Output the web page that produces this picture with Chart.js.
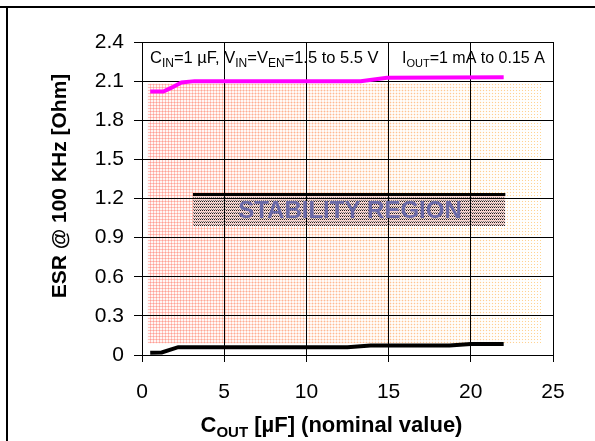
<!DOCTYPE html>
<html>
<head>
<meta charset="utf-8">
<script src="https://cdn.jsdelivr.net/npm/chart.js@4.4.1/dist/chart.umd.min.js"></script>
<style>
body{margin:0;background:#fff}
canvas{display:block}
</style>
</head>
<body>
<canvas id="chart" width="595" height="441"></canvas>
<script>

// axis ticks
const xTickValues = [0, 5, 10, 15, 20, 25]
const yTickValues = [0, 0.3, 0.6, 0.9, 1.2, 1.5, 1.8, 2.1, 2.4]

// upper ESR limit (magenta)
const coutMax = [0.5, 1.3, 1.8, 2.4, 3.2, 13.3, 14.9, 22]
const esrMax = [2.02, 2.02, 2.05, 2.09, 2.1, 2.1, 2.125, 2.13]

// lower ESR limit (black)
const coutMin = [0.5, 1.2, 2.2, 12.5, 13.9, 18.7, 20, 22]
const esrMin = [0.018, 0.02, 0.06, 0.06, 0.072, 0.072, 0.085, 0.085]

// stippled stability area
const regionCout = [0.35, 24.35]
const regionTop = [2.08, 2.08]
const regionBottom = [0.09, 0.09]

// "STABILITY REGION" box
const boxCout = [3.1, 22.1]
const boxTop = [1.23, 1.23]
const boxBottom = [0.99, 0.99]

const FONT = "'Liberation Sans', Arial, Helvetica, sans-serif"

const pts = (xs, ys) => xs.map((x, i) => ({x: x, y: ys[i]}))


// 🔹 dotted pink -> orange fill
function regionPattern(ctx){
const w = 595, h = 441
const c = document.createElement("canvas")
c.width = w
c.height = h
const g = c.getContext("2d")
const img = g.createImageData(w, h)
for(let y = 0; y < h; y++){
for(let x = 0; x < w; x++){
let t = (x - 148) / (543 - 148)
t = Math.max(0, Math.min(1, t))
const gg = Math.round(140 + 50 * t)
const b = Math.round(130 - 40 * t)
let a
if(x % 3 === 0 && y % 3 === 0) a = 0.85 - 0.2 * t
else if(x % 3 === 0 || y % 3 === 0) a = (1 - t) * 0.55
else a = (1 - t) * 0.08
const k = (y * w + x) * 4
img.data[k] = 255
img.data[k + 1] = gg
img.data[k + 2] = b
img.data[k + 3] = Math.round(a * 255)
}
}
g.putImageData(img, 0, 0)
return ctx.createPattern(c, "repeat")
}

// 🔹 dark dotted rows of the label box
function boxPattern(ctx){
const c = document.createElement("canvas")
c.width = 4
c.height = 3
const g = c.getContext("2d")
g.fillStyle = "#f7d3ce"
g.fillRect(0, 0, 4, 3)
g.fillStyle = "#1e1e1e"
g.fillRect(0, 0, 1, 1)
g.fillRect(2, 0, 1, 1)
g.fillStyle = "#7a7a7a"
g.fillRect(1, 2, 1, 1)
g.fillRect(3, 2, 1, 1)
return ctx.createPattern(c, "repeat")
}


// 🔹 text with subscripts: parts = [[text, isSub], ...]
function drawRich(ctx, parts, x, y, size, bold, align){
const f = (bold ? "bold " : "") + size + "px " + FONT
const fs = (bold ? "bold " : "") + Math.round(size * 0.7) + "px " + FONT
let total = 0
parts.forEach(p => {
ctx.font = p[1] ? fs : f
total += ctx.measureText(p[0]).width
})
let cx = align === "center" ? x - total / 2 : x
ctx.textBaseline = "alphabetic"
ctx.textAlign = "left"
parts.forEach(p => {
ctx.font = p[1] ? fs : f
ctx.fillText(p[0], cx, p[1] ? y + size * 0.22 : y)
cx += ctx.measureText(p[0]).width
})
}


const decor = {
id: "decor",
beforeDraw(chart){
const ctx = chart.ctx
ctx.save()
ctx.fillStyle = "#000"
ctx.fillRect(0, 6, 595, 2)
ctx.fillRect(6, 8, 2, 433)
ctx.restore()
},
afterDatasetDraw(chart, args){
if(args.index !== 3) return
const ctx = chart.ctx
const x = chart.scales.x
const y = chart.scales.y
ctx.save()
x.drawGrid(chart.chartArea)
y.drawGrid(chart.chartArea)
ctx.fillStyle = "#6a6aa8"
ctx.font = "bold 24px " + FONT
ctx.textAlign = "center"
ctx.textBaseline = "middle"
ctx.fillText("STABILITY REGION", x.getPixelForValue(12.65), y.getPixelForValue(1.1))
ctx.restore()
},
afterDraw(chart){
const ctx = chart.ctx
const a = chart.chartArea
ctx.save()
ctx.fillStyle = "#000"
drawRich(ctx, [["C", false], ["IN", true], ["=1 µF, V", false], ["IN", true], ["=V", false], ["EN", true], ["=1.5 to 5.5 V", false]], 150, 63, 16.5, false, "left")
drawRich(ctx, [["I", false], ["OUT", true], ["=1 mA to 0.15 A", false]], 402, 63, 16, false, "left")

// axis titles
drawRich(ctx, [["C", false], ["OUT", true], [" [µF] (nominal value)", false]], (a.left + a.right) / 2 - 16, 432, 22, true, "center")
ctx.translate(66, 186)
ctx.rotate(-Math.PI / 2)
ctx.font = "bold 21px " + FONT
ctx.textAlign = "center"
ctx.textBaseline = "alphabetic"
ctx.fillText("ESR @ 100 KHz [Ohm]", 0, 0)
ctx.restore()
}
}


const canvas = document.getElementById("chart")
const c2d = canvas.getContext("2d")

const chart = new Chart(canvas, {
type: "line",
data: {
datasets: [
{data: pts(regionCout, regionTop), borderWidth: 0, pointRadius: 0, fill: "+1", backgroundColor: regionPattern(c2d), order: 5},
{data: pts(regionCout, regionBottom), borderWidth: 0, pointRadius: 0, fill: false, order: 4},
{data: pts(boxCout, boxTop), borderColor: "#000", borderWidth: 3, pointRadius: 0, fill: "+1", backgroundColor: boxPattern(c2d), order: 3},
{data: pts(boxCout, boxBottom), borderWidth: 0, pointRadius: 0, fill: false, order: 2},
{data: pts(coutMin, esrMin), borderColor: "#000", borderWidth: 4, pointRadius: 0, fill: false, order: 1},
{data: pts(coutMax, esrMax), borderColor: "#ff00ff", borderWidth: 4, pointRadius: 0, fill: false, order: 0}
]
},
options: {
responsive: false,
animation: false,
events: [],
layout: {padding: {left: 0, top: 42, right: 42, bottom: 0}},
plugins: {legend: {display: false}, tooltip: {enabled: false}},
scales: {
x: {
type: "linear",
min: 0,
max: 25,
afterBuildTicks: s => { s.ticks = xTickValues.map(v => ({value: v})) },
afterFit: s => { s.height = 86 },
grid: {color: "#000", lineWidth: 1, tickLength: 7},
border: {color: "#000", width: 1},
ticks: {color: "#000", font: {family: FONT, size: 21}, padding: 18, maxRotation: 0}
},
y: {
type: "linear",
min: 0,
max: 2.4,
afterBuildTicks: s => { s.ticks = yTickValues.map(v => ({value: v})) },
afterFit: s => { s.width = 142 },
grid: {color: "#000", lineWidth: 1, tickLength: 8},
border: {color: "#000", width: 1},
ticks: {color: "#000", font: {family: FONT, size: 21}, padding: 10,
callback: v => v === 0 ? "0" : v.toFixed(1)}
}
}
},
plugins: [decor]
})

</script>
</body>
</html>
